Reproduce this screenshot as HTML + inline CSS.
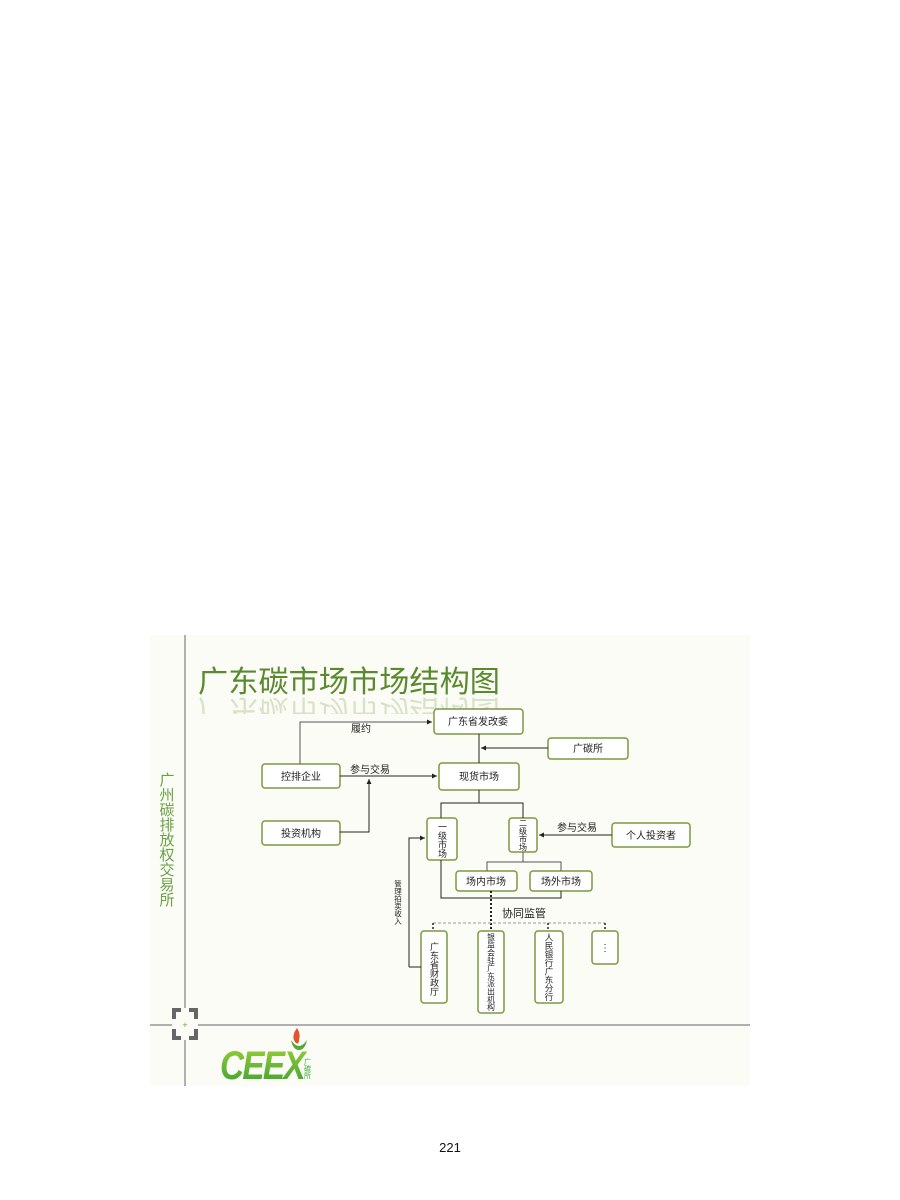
<!DOCTYPE html>
<html><head><meta charset="utf-8"><style>
html,body{margin:0;padding:0;background:#fff;}
body{width:900px;height:1200px;position:relative;overflow:hidden;font-family:"Liberation Sans","Noto Sans CJK SC",sans-serif;}
svg{position:absolute;left:0;top:0;}
</style></head><body>
<svg width="900" height="1200" viewBox="0 0 900 1200" xmlns="http://www.w3.org/2000/svg" font-family="Liberation Sans, Noto Sans CJK SC, sans-serif">
<defs>
<marker id="a" markerWidth="6" markerHeight="6" refX="5" refY="3" orient="auto"><path d="M0,0.5 L5,3 L0,5.5z" fill="#222"/></marker>
<linearGradient id="g" x1="0" y1="0" x2="0" y2="1"><stop offset="0" stop-color="#9ccf3a"/><stop offset="1" stop-color="#3aa033"/></linearGradient>
<clipPath id="cp"><rect x="190" y="696" width="320" height="18"/></clipPath>
</defs>
<rect x="150" y="635" width="600" height="451" fill="#fcfcf6"/>
<line x1="185" y1="635" x2="185" y2="1086" stroke="#b0b0b0" stroke-width="2"/>
<line x1="150" y1="1025" x2="750" y2="1025" stroke="#b0b0b0" stroke-width="2"/>
<!-- corner icon -->
<rect x="172" y="1008" width="26" height="32" fill="#fcfcf6"/>
<path d="M181,1010 h-7 v9 M189,1010 h7 v9 M181,1038 h-7 v-9 M189,1038 h7 v-9" stroke="#666" stroke-width="4" fill="none"/>
<text x="185" y="1028" font-size="9" fill="#6a3" text-anchor="middle">+</text>
<!-- title -->
<text x="198" y="692" font-size="30" fill="#5a8a2e" textLength="302" lengthAdjust="spacingAndGlyphs">广东碳市场市场结构图</text>
<g clip-path="url(#cp)"><g transform="translate(0,1392) scale(1,-1)"><text x="198" y="692" font-size="30" fill="#5a8a2e" opacity="0.22" textLength="302" lengthAdjust="spacingAndGlyphs">广东碳市场市场结构图</text></g></g>
<!-- side text -->
<text x="166" y="772" font-size="15" fill="#6aa046" style="writing-mode:vertical-rl">广州碳排放权交易所</text>
<!-- logo -->
<text x="220" y="1079" font-size="40" font-weight="bold" fill="url(#g)" font-style="italic" letter-spacing="-2" textLength="84" lengthAdjust="spacingAndGlyphs">CEEX</text>
<path d="M297,1028 q-6,8 -2,14 q4,4 4,-2 q2,-6 -2,-12z" fill="#e0562a"/>
<path d="M291,1040 q2,10 8,10 q6,0 8,-10 q-4,6 -8,6 q-4,0 -8,-6z" fill="#5a3"/>
<text x="307" y="1058" font-size="7" fill="#3a3" style="writing-mode:vertical-rl">广碳所</text>
<!-- boxes -->
<g fill="#fff" stroke="#7a9a3e" stroke-width="1.5">
<rect x="434" y="709" width="89" height="25" rx="3"/>
<rect x="548" y="738" width="80" height="21" rx="3"/>
<rect x="262" y="764" width="78" height="24" rx="3"/>
<rect x="439" y="763" width="80" height="27" rx="3"/>
<rect x="262" y="821" width="78" height="24" rx="3"/>
<rect x="427" y="818" width="30" height="42" rx="3"/>
<rect x="509" y="818" width="28" height="34" rx="3"/>
<rect x="612" y="823" width="78" height="24" rx="3"/>
<rect x="456" y="871" width="61" height="20" rx="3"/>
<rect x="530" y="871" width="62" height="20" rx="3"/>
<rect x="421" y="931" width="26" height="72" rx="3"/>
<rect x="478" y="931" width="26" height="82" rx="3"/>
<rect x="535" y="931" width="28" height="72" rx="3"/>
<rect x="592" y="931" width="26" height="33" rx="3"/>
</g>
<!-- connectors -->
<g stroke="#222" stroke-width="1" fill="none">
<path d="M300,764 V722 H432" marker-end="url(#a)" stroke="#555"/>
<path d="M479,734 V763"/>
<path d="M548,748 H481" marker-end="url(#a)"/>
<path d="M340,776 H437" marker-end="url(#a)"/>
<path d="M340,832 H369 V779" marker-end="url(#a)"/>
<path d="M479,790 V803 M441,818 V803 H523 V818" />
<path d="M612,835 H539" marker-end="url(#a)"/>
<path d="M523,852 V862 M487,871 V862 H561 V871" stroke="#555"/>
<path d="M441,860 V898 H561 V891"/>
<path d="M409,967 H421 M409,967 V838 H425" marker-end="url(#a)"/>
<path d="M491,891 V931" stroke-dasharray="2,2" stroke-width="2"/>
<path d="M433,923 H605" stroke="#999" stroke-dasharray="3,2"/>
<path d="M433,923 V931 M548,923 V931 M605,923 V931" stroke-dasharray="2,2" stroke-width="1.5"/>
</g>
<!-- labels -->
<g font-size="10" fill="#222" text-anchor="middle">
<text x="478" y="725">广东省发改委</text>
<text x="588" y="752">广碳所</text>
<text x="301" y="780">控排企业</text>
<text x="479" y="780">现货市场</text>
<text x="301" y="837">投资机构</text>
<text x="651" y="839">个人投资者</text>
<text x="486" y="885">场内市场</text>
<text x="561" y="885">场外市场</text>
<text x="361" y="732">履约</text>
<text x="370" y="773">参与交易</text>
<text x="577" y="831">参与交易</text>
<text x="524" y="917" font-size="11">协同监管</text>
<text x="605" y="951">⋮</text>
</g>
<g fill="#222" style="writing-mode:vertical-rl">
<text x="442" y="822" font-size="9">一级市场</text>
<text x="523" y="819" font-size="8">二级市场</text>
<text x="434" y="942" font-size="9">广东省财政厅</text>
<text x="491" y="933" font-size="7.8">银监会驻广东派出机构</text>
<text x="549" y="933" font-size="8.5">人民银行广东分行</text>
<text x="398" y="880" font-size="7.5">管理拍卖收入</text>
</g>
<text x="450" y="1152" font-size="13" fill="#111" text-anchor="middle">221</text>
</svg>
</body></html>
